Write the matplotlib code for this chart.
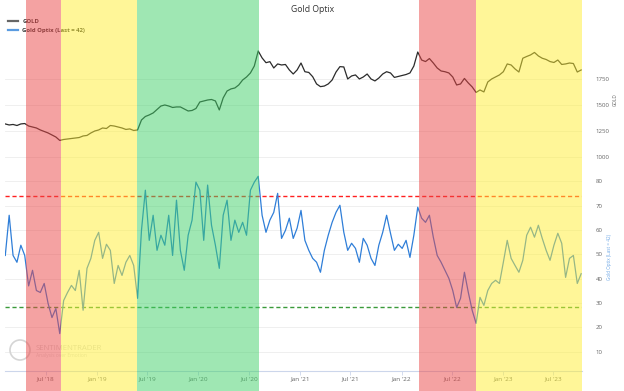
import matplotlib
matplotlib.use('Agg')
import matplotlib.pyplot as plt
import matplotlib.dates as mdates
from matplotlib.patches import Ellipse
import pandas as pd

plt.rcParams['font.family'] = ['Open Sans', 'DejaVu Sans']

# ---------------- data (bi-weekly samples) ----------------
start_date = '2018-02-05'
step = '14D'

gold = [1316, 1306, 1311, 1301, 1316, 1320, 1296, 1287, 1277, 1258,
        1243, 1229, 1210, 1190, 1157, 1166, 1171, 1176, 1181, 1185,
        1200, 1205, 1229, 1248, 1258, 1277, 1272, 1301, 1296, 1287,
        1277, 1263, 1268, 1253, 1258, 1354, 1388, 1403, 1422, 1456,
        1489, 1499, 1489, 1475, 1480, 1480, 1460, 1441, 1446, 1465,
        1528, 1538, 1547, 1552, 1538, 1451, 1567, 1634, 1654, 1663,
        1692, 1740, 1769, 1808, 1875, 2020, 1953, 1907, 1917, 1856,
        1895, 1885, 1890, 1837, 1798, 1837, 1904, 1820, 1813, 1772,
        1702, 1676, 1682, 1702, 1740, 1817, 1869, 1866, 1750, 1779,
        1789, 1750, 1769, 1798, 1750, 1731, 1759, 1798, 1820, 1808,
        1765, 1774, 1784, 1793, 1808, 1875, 2010, 1933, 1918, 1947,
        1904, 1856, 1827, 1820, 1808, 1769, 1692, 1702, 1755, 1711,
        1673, 1620, 1644, 1625, 1721, 1750, 1769, 1789, 1820, 1895,
        1885, 1847, 1817, 1950, 1967, 1982, 2006, 1972, 1950, 1938,
        1918, 1909, 1933, 1890, 1895, 1904, 1899, 1817, 1837]

optix = [49.5, 66, 49.5, 46.7, 53.7, 49.5, 37, 43.4, 35.1, 34.3,
         38, 29.8, 24, 27.7, 17.4, 31, 34.3, 37.2, 35.1, 43.4,
         27, 44.2, 48.3, 55.7, 59, 48.3, 54.1, 51.6, 38, 45.4,
         41.3, 46.7, 49.5, 45.4, 31.9, 59.8, 76.3, 55.7, 66, 51.6,
         57.8, 53.7, 66, 49.5, 72.2, 51.6, 43.4, 57.8, 64, 79.6,
         76.3, 55.7, 78.4, 61.9, 53.7, 44.2, 66, 72.2, 55.7, 64,
         59, 63.1, 57.8, 76.3, 79.6, 82, 66, 59, 64, 67.2,
         75, 56.5, 59.8, 64.8, 56.5, 60.7, 68, 55.7, 51.6, 48.3,
         46.7, 42.6, 51.6, 57.8, 63.1, 67.2, 70.1, 59, 51.6, 54.5,
         52.4, 46.7, 56.5, 53.7, 48.3, 45.4, 53.7, 59, 66, 58.6,
         51.6, 54.1, 52.4, 55.7, 48.7, 57.8, 69.3, 64.8, 63.1, 66,
         57, 49.5, 46.7, 43.4, 40.1, 35.1, 28.1, 31.9, 42.6, 34.3,
         26.9, 21.6, 32.3, 29, 35.1, 38, 39.3, 38, 46.7, 55.7,
         48.3, 45.4, 42.6, 47.5, 57.8, 61.1, 57, 61.9, 56.5, 51.6,
         47.5, 53.7, 58.6, 54.5, 40.5, 48.3, 49.5, 38, 42]

upper_threshold = 73.8
lower_threshold = 28.5

band_starts = ['2018-04-20', '2018-08-24', '2019-05-26', '2022-03-06', '2022-09-26']
band_ends = ['2018-08-24', '2019-05-26', '2020-08-07', '2022-09-26', '2023-10-12']
band_colors = ['#eb4747', '#ffef33', '#41d169', '#eb4747', '#ffef33']

gold_ticks = [1000, 1250, 1500, 1750]
optix_ticks = [10, 20, 30, 40, 50, 60, 70, 80]

x_start = '2018-02-04'
x_end = '2023-10-12'

dates = pd.date_range(start_date, periods=len(gold), freq=step)

# ---------------- figure ----------------
W_PX, H_PX = 624, 391
fig = plt.figure(figsize=(W_PX / 100, H_PX / 100), dpi=100)
L = 5 / W_PX
W = 577 / W_PX

ax = fig.add_axes([L, 20 / H_PX, W, 371 / H_PX])
ax.set_facecolor('none')
ax2 = ax.twinx()

grid_c = '#ececec'
for t in optix_ticks:
    ax.axhline(t, color=grid_c, lw=0.6, zorder=0)
for t in gold_ticks:
    ax2.axhline(t, color=grid_c, lw=0.6, zorder=0)

l_opt, = ax.plot(dates, optix, color='#2f7ed8', lw=0.9, zorder=3,
                 label='Gold Optix (Last = 42)')
l_gold, = ax2.plot(dates, gold, color='#2b2b2b', lw=0.9, zorder=3, label='GOLD')

ax.axhline(upper_threshold, color='#ff2020', lw=1.0, ls=(0, (3, 2)), zorder=2)
ax.axhline(lower_threshold, color='#3a9a3a', lw=1.0, ls=(0, (3, 2)), zorder=2)

ax.set_ylim(2.05, 154.4)
ax2.set_ylim(-1068, 2512)
ax.set_xlim(pd.Timestamp(x_start), pd.Timestamp(x_end))

ax.yaxis.tick_right()
ax.set_yticks(optix_ticks)
ax2.set_yticks(gold_ticks)
for a in (ax, ax2):
    a.tick_params(axis='y', length=0, pad=10, labelsize=4.4, labelcolor='#666666')
    for s in ('top', 'left', 'right'):
        a.spines[s].set_visible(False)
ax2.spines['bottom'].set_visible(False)
ax.spines['bottom'].set_color('#ccd6eb')
ax.spines['bottom'].set_linewidth(0.8)

ax.xaxis.set_major_locator(mdates.MonthLocator(bymonth=[1, 7]))
ax.xaxis.set_major_formatter(mdates.DateFormatter("%b '%y"))
ax.tick_params(axis='x', length=3, width=0.6, color='#ccd6eb', pad=0.8,
               labelsize=4.6, labelcolor='#666666')

# axis titles
fig.text(615 / W_PX, 1 - 100 / H_PX, 'GOLD', rotation=90, fontsize=3.3,
         color='#666666', ha='center', va='center')
fig.text(609 / W_PX, 1 - 257 / H_PX, 'Gold Optix (Last = 42)', rotation=90,
         fontsize=3.3, color='#6fa8e6', ha='center', va='center')

# title
fig.text(313 / W_PX, 1 - 9 / H_PX, 'Gold Optix', ha='center', va='center',
         fontsize=6.2, color='#333333')

# legend
leg = ax.legend(handles=[l_gold, l_opt], loc='upper left',
                bbox_to_anchor=(8 / W_PX, 1 - 19 / H_PX), bbox_transform=fig.transFigure,
                frameon=False, handlelength=1.6, handletextpad=0.8,
                labelspacing=0.55, borderpad=0, borderaxespad=0,
                prop={'family': ['Open Sans', 'DejaVu Sans'], 'weight': 'bold', 'size': 4.3})
for txt in leg.get_texts():
    txt.set_color('#333333')
leg.legend_handles[0].set_color('#666666')
leg.legend_handles[0].set_linewidth(1.6)
leg.legend_handles[1].set_color('#5a9be0')
leg.legend_handles[1].set_linewidth(1.6)

# watermark
fig.add_artist(Ellipse((20 / W_PX, 1 - 350 / H_PX), 20 / W_PX, 20 / H_PX,
                       transform=fig.transFigure, fill=False, ec='#d5d5d5', lw=1.2))
fig.text(36 / W_PX, 1 - 348 / H_PX, 'SENTIMENTRADER', fontsize=5.6, color='#d5d5d5',
         ha='left', va='center')
fig.text(36 / W_PX, 1 - 356 / H_PX, 'Analysis over Emotion', fontsize=3.6, color='#dcdcdc',
         ha='left', va='center')

# overlay bands (drawn on top, full height)
ov = fig.add_axes([L, 0, W, 1], zorder=10)
ov.set_xlim(pd.Timestamp(x_start), pd.Timestamp(x_end))
ov.set_ylim(0, 1)
ov.axis('off')
ov.patch.set_alpha(0)
for s0, s1, c in zip(band_starts, band_ends, band_colors):
    ov.axvspan(pd.Timestamp(s0), pd.Timestamp(s1), color=c, alpha=0.5, lw=0)

fig.savefig('out.png', dpi=100)
